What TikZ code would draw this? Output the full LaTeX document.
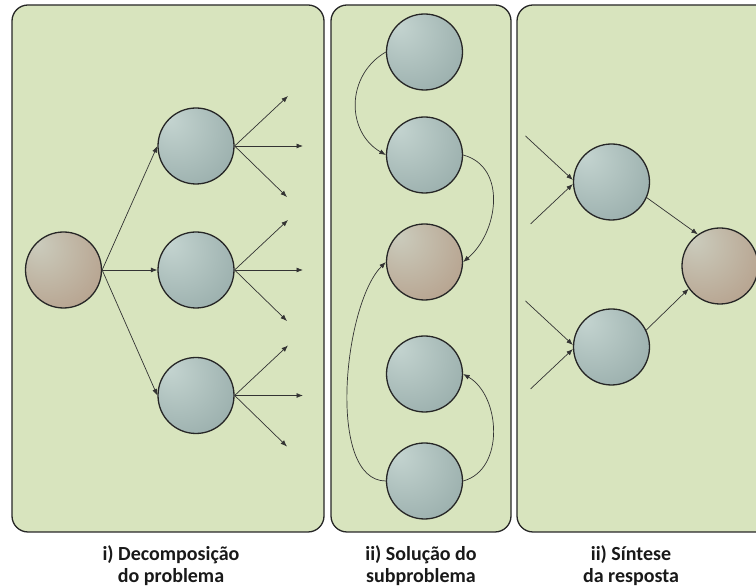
\documentclass[tikz,border=0pt]{standalone}
\usepackage{fontspec}
\setmainfont{Carlito}
\usetikzlibrary{arrows.meta}

\definecolor{panelfill}{HTML}{D8E4BE}
\definecolor{panelline}{HTML}{262626}
\definecolor{blueA}{HTML}{C4D4D0}
\definecolor{blueB}{HTML}{7B9392}
\definecolor{brownA}{HTML}{CBCCBD}
\definecolor{brownB}{HTML}{A7836B}
\definecolor{linkcol}{HTML}{333333}

% spheres lit from the upper left
\pgfdeclareradialshading{bluesphere}{\pgfpoint{-18bp}{18bp}}{color(0bp)=(blueA); color(68bp)=(blueB)}
\pgfdeclareradialshading{brownsphere}{\pgfpoint{-18bp}{18bp}}{color(0bp)=(brownA); color(68bp)=(brownB)}

\tikzset{
  panel/.style={draw=panelline, fill=panelfill, line width=1.3pt, rounded corners=16pt},
  ball/.style={circle, draw=panelline, line width=1.3pt, minimum size=76pt, inner sep=0pt},
  blueball/.style={ball, shading=bluesphere},
  brownball/.style={ball, shading=brownsphere},
  link/.style={draw=linkcol, line width=0.7pt, -{Latex[length=6.5pt,width=5pt]}},
  caption/.style={anchor=north, align=center, inner sep=0pt,
    font=\fontsize{20}{22.5}\selectfont\bfseries, text=black!90}
}

\begin{document}
\begin{tikzpicture}[x=1pt,y=1pt]
\useasboundingbox (0,0) rectangle (756,588);
\clip (0,0) rectangle (756,588);

% three panels
\draw[panel] (12,56) rectangle (324,583);
\draw[panel] (331,56) rectangle (511,583);
\draw[panel] (517,56) rectangle (772,583);

% i) decomposition
\node[brownball] (a0) at (63.5,318) {};
\node[blueball] (a1) at (196,442) {};
\node[blueball] (a2) at (196,318) {};
\node[blueball] (a3) at (196,192.5) {};
\foreach \n in {1,2,3} {
  \draw[link] (a0.east) -- (a\n.west);
  \coordinate (a\n u) at ([shift={(92,50)}]a\n.center);
  \coordinate (a\n r) at ([shift={(107,0)}]a\n.center);
  \coordinate (a\n d) at ([shift={(91,-51)}]a\n.center);
  \draw[link] (a\n.east) -- (a\n u);
  \draw[link] (a\n.east) -- (a\n r);
  \draw[link] (a\n.east) -- (a\n d);
}

% ii) solving the subproblems
\node[blueball] (b1) at (424.5,536) {};
\node[blueball] (b2) at (424.5,433) {};
\node[brownball] (b3) at (424.5,326) {};
\node[blueball] (b4) at (424.5,214) {};
\node[blueball] (b5) at (424.5,107) {};
\draw[link] (b1.west) to[out=210,in=150,looseness=1.15] (b2.west);
\draw[link] (b2.east) to[out=-15,in=40,looseness=1.1] (b3.east);
\draw[link] (b5.west) to[out=180,in=225,looseness=0.7] (b3.west);
\draw[link] (b5.east) to[out=15,in=-30,looseness=1.04] (b4.east);

% iii) synthesis
\node[blueball] (c1) at (611.5,406) {};
\node[brownball] (c2) at (720,322) {};
\node[blueball] (c3) at (611.5,241) {};
\foreach \n in {1,3} {
  \coordinate (c\n p) at ([shift={(-86,46)}]c\n.center);
  \coordinate (c\n q) at ([shift={(-81,-42)}]c\n.center);
  \draw[link] (c\n p) -- (c\n.177);
  \draw[link] (c\n q) -- (c\n.183);
}
\draw[link] (c1.-24) -- (c2.125);
\draw[link] (c3.26) -- (c2.216);

% captions
\node[caption] at (171,43) {i) Decomposição\\do problema};
\node[caption] at (421,43) {ii) Solução do\\subproblema};
\node[caption] at (631,43) {ii) Síntese\\da resposta};
\end{tikzpicture}
\end{document}
